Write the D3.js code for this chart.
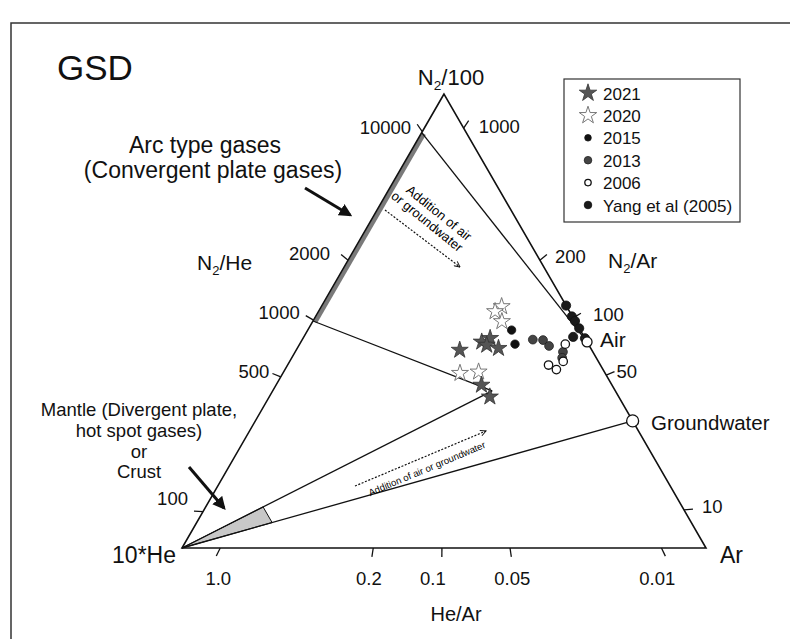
<!DOCTYPE html>
<html><head><meta charset="utf-8">
<script src="https://cdn.jsdelivr.net/npm/d3@7"></script>
<style>
body{margin:0;background:#fff;}
svg{display:block;font-family:"Liberation Sans",Arial,Helvetica,sans-serif;}
</style>
</head><body>
<svg id="chart" width="790" height="639"></svg>
<script>
// ---------------- DATA (ternary compositions in %: [N2/100, 10*He, Ar]) ----------------
const seriesNames = ["2021", "2020", "2015", "2013", "2006", "Yang et al (2005)"];
const series2021 = [[43.6,25.2,31.2],[45.4,20.1,34.5],[46.2,18.1,35.7],[44.7,19.5,35.8],[44.0,17.6,38.4],[35.9,24.9,39.2],[33.3,24.6,42.1]];
const series2020 = [[53.2,12.4,34.4],[52.1,14.2,33.7],[49.9,14.0,36.1],[38.5,27.7,33.8],[38.8,24.0,37.2]];
const series2015 = [[48.0,13.1,38.9],[44.9,14.0,41.1]];
const series2013 = [[45.9,10.1,44.0],[45.8,8.2,46.0],[44.5,7.7,47.8],[43.2,5.7,51.1],[41.9,6.5,51.6]];
const series2006 = [[44.9,4.4,50.7],[41.1,6.7,52.2],[40.3,9.9,49.8],[39.3,8.9,51.8]];
const seriesYang2005 = [[53.4,0,46.6],[51.0,0.1,48.9],[50.0,0,50.0],[48.4,0,51.6],[46.5,2.1,51.4],[46.2,0,53.8]];

// reference compositions
const airComp = [45.4, 0, 54.6];
const groundwaterComp = [28.0, 0, 72.0];
const arcTopComp = [91.5, 8.5, 0];      // N2/He = 10000 end of arc-type field
const arcBottomComp = [50, 50, 0];      // N2/He = 1000
const mixEndComp = [34.6, 23.5, 41.9];  // end of mantle/arc mixing lines
const heVertexComp = [0, 100, 0];
const mantleHeCut = 80;                 // % 10*He bounding the mantle field

// edge tick labels and their positions along the edges (%)
const leftTickLabels = ["10000", "2000", "1000", "500", "100"];   // N2/He
const leftTickN2 = [91.7, 63.4, 50.2, 37.7, 8.0];
const rightTickLabels = ["1000", "200", "100", "50", "10"];       // N2/Ar
const rightTickN2 = [92.5, 63.4, 50.7, 38.1, 8.4];
const bottomTickLabels = ["1.0", "0.2", "0.1", "0.05", "0.01"];   // He/Ar
const bottomTickAr = [7.3, 36.5, 49.6, 62.6, 91.5];

// ---------------- LAYOUT ----------------
const svg = d3.select("#chart");
const X0 = 182, X1 = 706, YB = 548, YT = 94;
const xScale = d3.scaleLinear().domain([0, 1]).range([X0, X1]);  // Ar + N2/2
const yScale = d3.scaleLinear().domain([0, 1]).range([YB, YT]);  // N2 fraction
function proj(c) {
  const s = c[0] + c[1] + c[2];
  const n = c[0] / s, a = c[2] / s;
  return [xScale(a + n / 2), yScale(n)];
}
const vN = proj([100,0,0]), vHe = proj([0,100,0]), vAr = proj([0,0,100]);

// frame
svg.append("rect").attr("x", 11).attr("y", 23).attr("width", 900).attr("height", 800)
  .attr("fill", "none").attr("stroke", "#333").attr("stroke-width", 1.5);

const g = svg.append("g");

// mantle field (gray wedge)
function lerp(c1, c2, f) { return c1.map((v, i) => v + f * (c2[i] - v)); }
function cutAtHe(c1, c2, he) { const f = (c1[1] - he) / (c1[1] - c2[1]); return lerp(c1, c2, f); }
const wedgeA = cutAtHe(heVertexComp, mixEndComp, mantleHeCut);
const wedgeB = cutAtHe(heVertexComp, groundwaterComp, mantleHeCut);
g.append("path").attr("d", d3.line()([vHe, proj(wedgeA), proj(wedgeB)]) + "Z")
  .attr("fill", "#c8c8c8").attr("stroke", "#111").attr("stroke-width", 1);

// arc-type field band along left edge
{
  const p1 = proj(arcTopComp), p2 = proj(arcBottomComp);
  const off = 2.6, nx = 0.866 * off, ny = 0.5 * off;
  g.append("line").attr("x1", p1[0] + nx).attr("y1", p1[1] + ny).attr("x2", p2[0] + nx).attr("y2", p2[1] + ny)
    .attr("stroke", "#7a7a7a").attr("stroke-width", 4.2);
}

// mixing lines
const mixingLines = [[arcTopComp, airComp], [arcBottomComp, mixEndComp], [heVertexComp, mixEndComp], [heVertexComp, groundwaterComp]];
mixingLines.forEach(([a, b]) => {
  const p = proj(a), q = proj(b);
  g.append("line").attr("x1", p[0]).attr("y1", p[1]).attr("x2", q[0]).attr("y2", q[1])
    .attr("stroke", "#111").attr("stroke-width", 1.3);
});

// triangle
g.append("path").attr("d", d3.line()([vN, vHe, vAr]) + "Z")
  .attr("fill", "none").attr("stroke", "#111").attr("stroke-width", 1.6).attr("stroke-linejoin", "miter");

// ticks
const tickLen = 9;
function tick(pt, from) {
  const dx = pt[0] - from[0], dy = pt[1] - from[1], L = Math.hypot(dx, dy);
  const e = [pt[0] + dx / L * tickLen, pt[1] + dy / L * tickLen];
  g.append("line").attr("x1", pt[0]).attr("y1", pt[1]).attr("x2", e[0]).attr("y2", e[1])
    .attr("stroke", "#111").attr("stroke-width", 1.3);
  return e;
}
const tickFont = 18.5;
const leftNudge = [[-3, 10], [-8, 5], [-3, 3], [0, 5], [-3, -6]];
leftTickLabels.forEach((lab, i) => {
  const t = leftTickN2[i];
  const e = tick(proj([t, 100 - t, 0]), vAr);
  g.append("text").attr("x", e[0] - 3 + leftNudge[i][0]).attr("y", e[1] + leftNudge[i][1])
    .attr("text-anchor", "end").attr("font-size", tickFont).attr("fill", "#111").text(lab);
});
const rightNudge = [[10, 12], [8, 8], [12, 8], [2, 6], [9, 4]];
rightTickLabels.forEach((lab, i) => {
  const t = rightTickN2[i];
  const e = tick(proj([t, 0, 100 - t]), vHe);
  g.append("text").attr("x", e[0] + rightNudge[i][0]).attr("y", e[1] + rightNudge[i][1])
    .attr("text-anchor", "start").attr("font-size", tickFont).attr("fill", "#111").text(lab);
});
const bottomNudge = [2, -3, -9, 1, -8];
bottomTickLabels.forEach((lab, i) => {
  const t = bottomTickAr[i];
  const e = tick(proj([0, 100 - t, t]), vN);
  g.append("text").attr("x", e[0] + bottomNudge[i]).attr("y", 585)
    .attr("text-anchor", "middle").attr("font-size", tickFont).attr("fill", "#111").text(lab);
});

// dotted "addition of air" arrows
svg.append("defs").html(
  '<marker id="chev" viewBox="0 0 10 10" refX="9" refY="5" markerWidth="7" markerHeight="7" orient="auto" markerUnits="userSpaceOnUse">' +
  '<path d="M1,1 L9,5 L1,9" fill="none" stroke="#111" stroke-width="1.4"/></marker>' +
  '<marker id="head" viewBox="0 0 10 10" refX="8" refY="5" markerWidth="13" markerHeight="13" orient="auto" markerUnits="userSpaceOnUse">' +
  '<path d="M0,0 L10,5 L0,10 Z" fill="#111"/></marker>');

function dotted(x1, y1, x2, y2) {
  g.append("line").attr("x1", x1).attr("y1", y1).attr("x2", x2).attr("y2", y2)
    .attr("stroke", "#111").attr("stroke-width", 1.2).attr("stroke-dasharray", "2,1.6")
    .attr("marker-end", "url(#chev)");
}
dotted(385, 210, 460, 267);
dotted(355, 486, 486, 431);

// rotated notes
const n1 = g.append("g").attr("transform", "translate(432,217) rotate(39)");
n1.append("text").attr("x", 3).attr("y", -3).attr("text-anchor", "middle").attr("font-size", 13).text("Addition of air");
n1.append("text").attr("x", -1).attr("y", 11).attr("text-anchor", "middle").attr("font-size", 13).text("or groundwater");
const n2 = g.append("g").attr("transform", "translate(427,469) rotate(-22.8)");
n2.append("text").attr("x", 0).attr("y", 3).attr("text-anchor", "middle").attr("font-size", 9.6).text("Addition of air or groundwater");

// thick arrows
function bold(x1, y1, x2, y2) {
  g.append("line").attr("x1", x1).attr("y1", y1).attr("x2", x2).attr("y2", y2)
    .attr("stroke", "#111").attr("stroke-width", 3).attr("marker-end", "url(#head)");
}
bold(305, 188, 350, 215);
bold(189, 467, 224, 508);

// ---------------- DATA POINTS ----------------
const star = d3.symbol().type(d3.symbolStar).size(90);
const circle = r => d3.symbol().type(d3.symbolCircle).size(Math.PI * r * r);
const styles = {
  "2021": {sym: star, fill: "#555", stroke: "#333", sw: 0.8},
  "2020": {sym: star, fill: "#fff", stroke: "#777", sw: 1},
  "2015": {sym: circle(4.2), fill: "#111", stroke: "#111", sw: 0.8},
  "2013": {sym: circle(4.4), fill: "#444", stroke: "#222", sw: 0.8},
  "2006": {sym: circle(4.2), fill: "#fff", stroke: "#111", sw: 1.3},
  "Yang et al (2005)": {sym: circle(4.6), fill: "#1a1a1a", stroke: "#111", sw: 0.8}
};
const seriesData = {"2021": series2021, "2020": series2020, "2015": series2015, "2013": series2013, "2006": series2006, "Yang et al (2005)": seriesYang2005};
const drawOrder = ["Yang et al (2005)", "2013", "2006", "2015", "2020", "2021"];
drawOrder.forEach(name => {
  const st = styles[name];
  g.selectAll(null).data(seriesData[name]).enter().append("path")
    .attr("d", st.sym())
    .attr("transform", d => { const p = proj(d); return `translate(${p[0]},${p[1]})`; })
    .attr("fill", st.fill).attr("stroke", st.stroke).attr("stroke-width", st.sw);
});

// Air and groundwater markers
[[airComp, 5], [groundwaterComp, 6]].forEach(([c, r]) => {
  const p = proj(c);
  g.append("circle").attr("cx", p[0]).attr("cy", p[1]).attr("r", r)
    .attr("fill", "#fff").attr("stroke", "#111").attr("stroke-width", 1.3);
});

// ---------------- TEXT ----------------
function txt(x, y, s, size, anchor) {
  return g.append("text").attr("x", x).attr("y", y).attr("font-size", size)
    .attr("text-anchor", anchor || "start").attr("fill", "#111").text(s);
}
txt(57, 80, "GSD", 35);
function sub(x, y, a, b, size, anchor) {
  const t = g.append("text").attr("x", x).attr("y", y).attr("font-size", size)
    .attr("text-anchor", anchor || "start").attr("fill", "#111");
  t.append("tspan").text("N");
  t.append("tspan").attr("font-size", size * 0.62).attr("dy", size * 0.22).text("2");
  t.append("tspan").attr("dy", -size * 0.22).text(b);
}
sub(451, 85, "N", "/100", 22, "middle");
sub(197, 270, "N", "/He", 21);
sub(608, 268, "N", "/Ar", 21);
txt(176, 563, "10*He", 23, "end");
txt(720, 563, "Ar", 23);
txt(456, 621, "He/Ar", 20, "middle");
txt(600, 347, "Air", 21);
txt(651, 430, "Groundwater", 20.5);
txt(205, 153, "Arc type gases", 23, "middle");
txt(213, 178, "(Convergent plate gases)", 23, "middle");
txt(139, 416, "Mantle (Divergent plate,", 18.5, "middle");
txt(139, 437, "hot spot gases)", 18.5, "middle");
txt(139, 457.5, "or", 18.5, "middle");
txt(139, 478, "Crust", 18.5, "middle");

// ---------------- LEGEND ----------------
const lg = svg.append("g");
lg.append("rect").attr("x", 564).attr("y", 79).attr("width", 176).attr("height", 143)
  .attr("fill", "#fff").attr("stroke", "#333").attr("stroke-width", 1.2);
const legendStyles = {
  "2021": {sym: d3.symbol().type(d3.symbolStar).size(95)},
  "2020": {sym: d3.symbol().type(d3.symbolStar).size(95)},
  "2015": {sym: circle(3.3)},
  "2013": {sym: circle(3.8)},
  "2006": {sym: circle(3.2)},
  "Yang et al (2005)": {sym: circle(3.8)}
};
seriesNames.forEach((name, i) => {
  const y = 93 + i * 22.4, st = styles[name];
  lg.append("path").attr("d", legendStyles[name].sym()).attr("transform", `translate(588,${y})`)
    .attr("fill", st.fill).attr("stroke", st.stroke).attr("stroke-width", st.sw);
  lg.append("text").attr("x", 603).attr("y", y + 6.5).attr("font-size", 17).attr("fill", "#111").text(name);
});
</script>
</body></html>
